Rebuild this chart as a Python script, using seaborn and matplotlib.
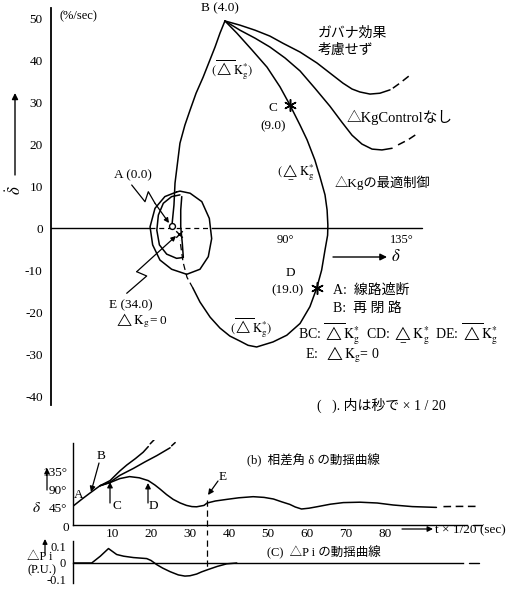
import matplotlib
matplotlib.use("Agg")
import matplotlib.pyplot as plt
from matplotlib.lines import Line2D
import seaborn as sns

W, H = 520, 593
K = "black"

# ===================== 位相面 (δ [deg], δ̇ [%/sec]) =====================
# A -> B
ab_delta = [46.5, 47.3, 47.7, 48.8, 49.6, 51.5, 53.5, 55.8, 58.5, 60.8, 63.1, 65.0, 66.9]
ab_ddot = [0.5, 5.5, 10.7, 16.2, 20.2, 24.5, 28.1, 32.1, 35.9, 39.5, 43.1, 46.4, 49.3]

# ガバナ効果考慮せず
gov_delta = [66.9, 72.7, 78.5, 84.2, 89.2, 95.8, 102.3, 107.3, 112.3, 115.8, 118.8, 122.7, 126.5, 130.4]
gov_ddot = [49.3, 48.3, 47.1, 45.7, 44.0, 41.9, 39.3, 36.9, 34.5, 33.1, 32.4, 31.9, 32.1, 32.9]
gov_delta_dash = [131.5, 134.2, 138.1]
gov_ddot_dash = [33.3, 34.5, 36.4]

# ΔKg Control なし
noc_delta = [66.9, 72.7, 78.5, 84.2, 90.0, 95.8, 101.5, 107.3, 111.9, 115.8, 119.6, 123.5, 127.3, 131.2]
noc_ddot = [49.3, 47.1, 45.2, 43.1, 40.5, 37.4, 33.3, 29.0, 25.2, 22.1, 20.0, 18.8, 18.6, 19.0]
noc_delta_dash = [133.5, 137.3, 141.2]
noc_ddot_dash = [19.8, 21.0, 22.6]

# ΔKg の最適制御 B -> C -> D -> E
opt_delta = [66.9, 71.5, 77.3, 83.1, 88.1, 91.9, 95.8, 98.5, 101.5, 103.5, 105.4, 106.2, 106.5,
             106.4, 105.4, 104.1, 102.2, 99.6, 95.8, 90.7, 85.4, 79.1, 75.8, 72.7, 68.8, 65.0,
             61.2, 57.3, 54.6]
opt_ddot = [49.3, 46.4, 42.4, 38.3, 33.6, 29.3, 24.5, 21.0, 16.2, 12.1, 7.9, 4.3, 0.7,
            -1.7, -5.2, -10.0, -14.3, -18.7, -22.7, -25.5, -27.1, -28.3, -27.9, -26.9, -25.7, -23.8,
            -21.2, -17.6, -14.3]
opt_delta_dash = [54.6, 52.3, 50.8, 49.6]
opt_ddot_dash = [-14.3, -11.7, -8.1, -2.9]

# E 以降の軌跡
outer_delta = [48.3, 43.8, 40.0, 38.1, 39.1, 41.9, 46.4, 52.2, 57.3, 60.5, 61.8, 60.9, 58.0, 53.5, 49.6, 48.3]
outer_ddot = [8.6, 7.5, 4.7, 0.3, -4.0, -7.6, -9.8, -11.0, -9.8, -6.8, -2.5, 2.3, 6.3, 8.3, 8.8, 8.6]
inner_delta = [49.6, 46.4, 43.2, 41.3, 40.7, 41.7, 44.5, 48.3, 50.9, 50.5, 49.9, 49.9, 50.3]
inner_ddot = [7.9, 7.5, 5.9, 3.1, -0.5, -4.0, -6.2, -7.2, -7.0, -3.6, 0.3, 4.3, 7.5]

pt_a = [46.5, 0.5]
pt_cd_delta = [91.9, 102.2]
pt_cd_ddot = [29.3, -14.3]
pt_e = [49.2, -1.4]

yticks_top = [-40, -30, -20, -10, 0, 10, 20, 30, 40, 50]
xticks_top = [90, 135]
xticklabels_top = ["90°", "135°"]

# ===================== (b) 相差角 δ の動揺曲線 =====================
t_main = [0, 2.2, 4.3, 6.9, 9.5, 12, 14.5, 17, 19.3, 21, 22.3, 24, 25.7, 27.5, 29.1, 30.5, 31.7,
          33.6, 34.4, 36.5, 39.4, 42.5, 46.2, 49, 51.4, 53.5, 55.6, 57, 58.6, 60.5, 62.5, 66,
          69.3, 73.6, 78, 82.1, 87, 93.2]
d_main = [47, 64, 79.5, 98, 106, 116, 121, 118, 111, 100, 90, 76, 64, 55, 49, 46, 45.5,
          49, 55, 60, 64, 68, 70.8, 69, 65, 58, 51.5, 45, 40, 42, 45.5, 52,
          56, 57, 55, 50, 46, 44]
t_main_dash = [95, 99, 104.4]
d_main_dash = [46, 46.5, 46.5]

t_gov = [6.9, 9.5, 12, 13.8, 16, 18, 19.3]
d_gov = [98, 111, 135, 150, 166, 182, 196]
t_gov_dash = [19.8, 20.8]
d_gov_dash = [203, 213]

t_noc = [6.9, 9.5, 12, 15.5, 18.5, 21.5, 24.9]
d_noc = [98, 107, 124, 141.5, 158, 173.5, 193]
t_noc_dash = [25.3, 26.2]
d_noc_dash = [198, 206]

t_e = 34.4
tticks = [10, 20, 30, 40, 50, 60, 70, 80, 90]
tticklabels = ["10", "20", "30", "40", "50", "60", "70", "80", ""]
dticks = [45, 90, 135]
dticklabels = ["45°", "90°", "135°"]

# ===================== (C) ΔPi の動揺曲線 =====================
t_dp = [0, 4.8, 7, 9.1, 11.2, 13, 15.5, 18.9, 20, 21.5, 23, 24.9, 27, 28.7, 30, 31.7, 33,
        34.7, 37, 39.4, 42]
dp = [0, 0, 0.04, 0.085, 0.05, 0.04, 0.032, 0.026, 0.015, -0.01, -0.03, -0.051, -0.07,
      -0.077, -0.075, -0.065, -0.052, -0.038, -0.02, -0.005, 0]
dpticks = [-0.1, 0, 0.1]
dpticklabels = ["-0.1", "0", "0.1"]


sns.set_theme(style="white")
plt.rcParams["font.family"] = ["Liberation Serif", "Noto Sans CJK JP", "DejaVu Sans"]
plt.rcParams["mathtext.fontset"] = "stix"
plt.rcParams["axes.unicode_minus"] = False

fig = plt.figure(figsize=(W / 100, H / 100), dpi=100)
fig.patch.set_facecolor("white")


def curve(ax, xs, ys, dashed=False, lw=1.1):
    sns.lineplot(x=xs, y=ys, ax=ax, sort=False, estimator=None, color=K, linewidth=lw,
                 linestyle=(0, (5, 3)) if dashed else "-")


def ptext(x, y, s, ha="left", size=9, **kw):
    fig.text(x / W, 1 - y / H, s, ha=ha, va="center", size=size, color=K, **kw)


def parrow(x0, y0, x1, y1, lw=0.9, ms=9):
    fig.axes[0].annotate("", xy=(x1, H - y1), xytext=(x0, H - y0),
                         xycoords="figure pixels", textcoords="figure pixels",
                         arrowprops=dict(arrowstyle="-|>", color=K, lw=lw, mutation_scale=ms,
                                         shrinkA=0, shrinkB=0))


def pline(xs, ys, lw=0.9):
    fig.add_artist(Line2D([x / W for x in xs], [1 - y / H for y in ys], color=K, lw=lw))


# ---------- 位相面 ----------
ax = fig.add_axes([51 / W, 1 - 410 / H, 456 / W, 405 / H])
ax.patch.set_alpha(0)
ax.set_xlim(0, 175.4)
ax.set_ylim(-43.3, 53.1)
for s in ["top", "right"]:
    ax.spines[s].set_visible(False)
ax.spines["left"].set_position(("data", 0))
ax.spines["left"].set_bounds(-42, 52.4)
ax.spines["left"].set_linewidth(1.3)
ax.spines["left"].set_color(K)
ax.spines["bottom"].set_position(("data", 0))
ax.spines["bottom"].set_visible(False)
ax.set_yticks(yticks_top)
ax.set_yticklabels([str(v) for v in yticks_top])
ax.set_xticks(xticks_top)
ax.set_xticklabels(xticklabels_top)
ax.tick_params(axis="y", direction="out", length=5, width=0.9, labelsize=9.5, pad=1, colors=K)
ax.tick_params(axis="x", direction="in", length=5, width=0.9, labelsize=9, pad=4, colors=K)
ax.set_xlabel("")
ax.set_ylabel("")

# δ 軸 (スパイラル部分は破線)
ax.plot([0, 38], [0, 0], color=K, lw=1.0)
ax.plot([38, 62], [0, 0], color=K, lw=0.9, ls=(0, (4, 3)))
ax.plot([62, 142.7], [0, 0], color=K, lw=1.0)

curve(ax, ab_delta, ab_ddot)
curve(ax, gov_delta, gov_ddot)
curve(ax, gov_delta_dash, gov_ddot_dash, dashed=True)
curve(ax, noc_delta, noc_ddot)
curve(ax, noc_delta_dash, noc_ddot_dash, dashed=True)
curve(ax, opt_delta, opt_ddot)
curve(ax, opt_delta_dash, opt_ddot_dash, dashed=True, lw=0.9)
curve(ax, outer_delta, outer_ddot)
curve(ax, inner_delta, inner_ddot)

sns.scatterplot(x=pt_cd_delta, y=pt_cd_ddot, ax=ax, marker=(6, 2, 0), s=70,
                color=K, edgecolor=K, linewidth=1.1, zorder=5)
sns.scatterplot(x=[pt_a[0]], y=[pt_a[1]], ax=ax, marker="o", s=18,
                color="white", edgecolor=K, linewidth=1.0, zorder=5)
sns.scatterplot(x=[pt_e[0]], y=[pt_e[1]], ax=ax, marker="x", s=22,
                color=K, linewidth=1.0, zorder=5)

ov = r"$(\overline{\triangle}\mathrm{K}_\mathrm{g}^{*})$"
un = r"$(\underset{-}{\triangle}\mathrm{K}_\mathrm{g}^{*}$"
ptext(60, 16, "(%/sec)", size=9)
ptext(220, 8, "B (4.0)", ha="center", size=9.5)
ptext(232, 70, ov, ha="center")
ptext(318, 33, "ガバナ効果", size=10)
ptext(318, 50, "考慮せず", size=10)
ptext(273, 108, "C", ha="center", size=9.5)
ptext(273, 126, "(9.0)", ha="center", size=9.5)
ptext(347, 117, "△KgControlなし", size=10.5)
ptext(296, 172, un, ha="center")
ptext(335, 183, "△Kgの最適制御", size=9.5)
ptext(133, 175, "A (0.0)", ha="center", size=9.5)
ptext(391, 257, r"$\delta$", size=12)
parrow(333, 257, 387, 257, lw=1.0, ms=10)
ptext(290, 273, "D", ha="center", size=9.5)
ptext(288, 290, "(19.0)", ha="center", size=9.5)
ptext(333, 290, "A:  線路遮断", size=10)
ptext(333, 308, "B:  再 閉 路", size=10)
ptext(298, 333, r"BC: $\overline{\triangle}\mathrm{K}_\mathrm{g}^{*}$  CD: "
                r"$\underset{-}{\triangle}\mathrm{K}_\mathrm{g}^{*}$  DE: "
                r"$\overline{\triangle}\mathrm{K}_\mathrm{g}^{*}$", size=10)
ptext(305, 355, r"E:  $\triangle\mathrm{K_g}$= 0", size=10)
ptext(317, 405, "(   ). 内は秒で × 1 / 20", size=10)
ptext(131, 305, "E (34.0)", ha="center", size=9.5)
ptext(141, 321, r"$\triangle\mathrm{K_g}$= 0", ha="center", size=9.5)
ptext(251, 328, ov, ha="center")
ptext(15, 190, r"$\dot{\delta}$", ha="center", size=12, rotation=90)
parrow(15, 175, 15, 93, lw=1.0, ms=9)

# 稲妻形の引出線
pline([131.7, 145, 148.3, 155], [185, 201.7, 191.7, 203.3])
parrow(155, 203.3, 169, 223, ms=7)
pline([126.7, 146.7, 136.7], [293.3, 276, 271.7])
parrow(136.7, 271.7, 176, 236, ms=7)

# ---------- (b) ----------
axb = fig.add_axes([73 / W, 1 - 535 / H, 427 / W, 95 / H])
axb.patch.set_alpha(0)
axb.set_xlim(0, 109.5)
axb.set_ylim(-25, 212.5)
for s in ["top", "right"]:
    axb.spines[s].set_visible(False)
axb.spines["left"].set_bounds(0, 205)
axb.spines["bottom"].set_position(("data", 0))
axb.spines["bottom"].set_bounds(0, 101)
for s in ["left", "bottom"]:
    axb.spines[s].set_color(K)
    axb.spines[s].set_linewidth(1.0)
axb.set_xticks(tticks)
axb.set_xticklabels(tticklabels)
axb.set_yticks(dticks)
axb.set_yticklabels(dticklabels)
axb.tick_params(axis="x", direction="in", length=5, width=0.9, labelsize=9.5, pad=2, colors=K)
axb.tick_params(axis="y", direction="out", length=3, width=0.9, labelsize=9.5, pad=1, colors=K)
axb.plot([102.5, 105], [0, 0], color=K, lw=1.0)

curve(axb, t_main, d_main)
curve(axb, t_main_dash, d_main_dash, dashed=True)
curve(axb, t_gov, d_gov)
curve(axb, t_gov_dash, d_gov_dash)
curve(axb, t_noc, d_noc)
curve(axb, t_noc_dash, d_noc_dash)
axb.plot([t_e, t_e], [62, -25], color=K, lw=0.9, ls=(0, (5, 3)), clip_on=False)
axb.set_xlabel("")
axb.set_ylabel("")

ptext(247, 460, "(b)  相差角 δ の動揺曲線", size=9)
ptext(79, 495, "A", ha="center", size=9.5)
ptext(101, 456, "B", ha="center", size=9.5)
parrow(99, 463, 91, 492, ms=8)
ptext(117, 506, "C", ha="center", size=9.5)
parrow(110, 503, 110, 482, ms=8)
ptext(153, 506, "D", ha="center", size=9.5)
parrow(148, 503, 148, 483, ms=8)
ptext(223, 477, "E", ha="center", size=9.5)
parrow(218, 481, 208, 495, ms=8)
ptext(66, 528, "0", ha="center", size=9.5)
ptext(37, 508, r"$\delta$", ha="center", size=11)
parrow(47, 490, 47, 468, ms=8)
parrow(402, 529, 433, 529, ms=8)
ptext(435, 530, "t × 1/20 (sec)", size=9.5)

# ---------- (C) ----------
axc = fig.add_axes([73 / W, 0, 427 / W, 53 / H])
axc.patch.set_alpha(0)
axc.set_xlim(0, 109.5)
axc.set_ylim(-0.1765, 0.1353)
for s in ["top", "right"]:
    axc.spines[s].set_visible(False)
axc.spines["left"].set_bounds(-0.12, 0.13)
axc.spines["bottom"].set_position(("data", 0))
axc.spines["bottom"].set_bounds(0, 100)
for s in ["left", "bottom"]:
    axc.spines[s].set_color(K)
    axc.spines[s].set_linewidth(1.0)
axc.set_xticks([])
axc.set_yticks(dpticks)
axc.set_yticklabels(dpticklabels)
axc.tick_params(axis="y", direction="out", length=4, width=0.9, labelsize=9, pad=1, colors=K)
axc.plot([101.5, 104], [0, 0], color=K, lw=1.0)

curve(axc, t_dp, dp)
axc.plot([t_e, t_e], [0.1353, -0.04], color=K, lw=0.9, ls=(0, (5, 3)), clip_on=False)
axc.set_xlabel("")
axc.set_ylabel("")

ptext(267, 552, "(C)  △P i の動揺曲線", size=9)
ptext(40, 557, "△P i", ha="center", size=9)
ptext(42, 570, "(P.U.)", ha="center", size=9)
parrow(45, 553, 45, 539, ms=7)

fig.savefig("out.png", dpi=100, facecolor="white")
